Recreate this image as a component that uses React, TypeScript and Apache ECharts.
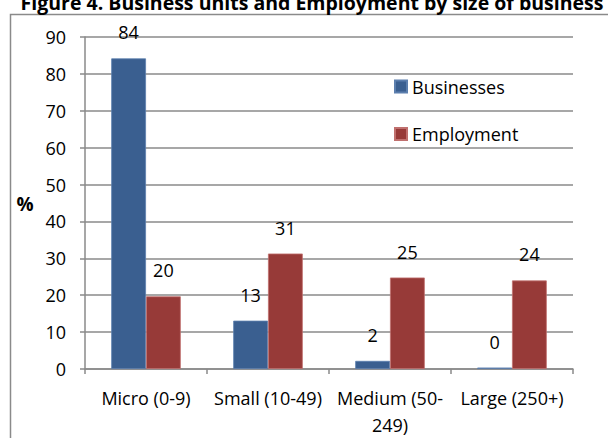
import { useEffect, useRef } from "react";
import * as echarts from "echarts";

const categories = ["Micro (0-9)", "Small (10-49)", "Medium (50-249)", "Large (250+)"];
const businesses = [84.2, 13.1, 2.2, 0.4];
const employment = [19.7, 31.3, 24.8, 24.0];
const seriesNames = ["Businesses", "Employment"];
const titleText = "Figure 4. Business units and Employment by size of business";

const FONT = "'Open Sans', 'Noto Sans', sans-serif";

export default function App() {
  const ref = useRef<HTMLDivElement>(null);
  useEffect(() => {
    if (!ref.current) return;
    const chart = echarts.init(ref.current, undefined, { renderer: "svg" });
    const labelCfg = {
      show: true,
      position: "top" as const,
      distance: 17,
      fontFamily: FONT,
      fontSize: 18,
      color: "#000",
      formatter: (p: any) => String(Math.round(p.value)),
    };
    const legendText = { fontFamily: FONT, fontSize: 18, color: "#000" };
    chart.setOption({
      animation: false,
      backgroundColor: "#fff",
      textStyle: { fontFamily: FONT },
      graphic: [
        {
          type: "rect",
          shape: { x: 10.5, y: 14.5, width: 640, height: 460 },
          style: { fill: "none", stroke: "#8a8a8a", lineWidth: 1.5 },
          silent: true,
          z: -10,
        },
        {
          type: "text",
          x: 312,
          y: 2,
          style: {
            text: titleText,
            fontFamily: FONT,
            fontWeight: "bold",
            fontSize: 19.5,
            fill: "#000",
            textAlign: "center",
            textVerticalAlign: "middle",
          },
        },
        {
          type: "text",
          x: 25,
          y: 204,
          style: {
            text: "%",
            fontFamily: FONT,
            fontWeight: "bold",
            fontSize: 19,
            fill: "#000",
            textAlign: "center",
            textVerticalAlign: "middle",
          },
        },
      ],
      legend: [
        {
          data: [seriesNames[0]],
          left: 394,
          top: 77.5,
          padding: 0,
          itemWidth: 12,
          itemHeight: 12,
          icon: "rect",
          textStyle: legendText,
        },
        {
          data: [seriesNames[1]],
          left: 394,
          top: 125,
          padding: 0,
          itemWidth: 12,
          itemHeight: 12,
          icon: "rect",
          textStyle: legendText,
        },
      ],
      grid: { left: 85, right: 35, top: 37, bottom: 69, containLabel: false },
      xAxis: {
        type: "category",
        data: categories,
        axisLine: { show: true, lineStyle: { color: "#8a8a8a", width: 1.5 } },
        axisTick: { show: true, length: 5, lineStyle: { color: "#8a8a8a", width: 1.5 } },
        axisLabel: {
          fontFamily: FONT,
          fontSize: 18,
          color: "#000",
          lineHeight: 27,
          margin: 15,
          interval: 0,
          formatter: (v: string) => v.replace("(50-", "(50-\n"),
        },
      },
      yAxis: {
        type: "value",
        min: 0,
        max: 90,
        interval: 10,
        axisLine: { show: true, lineStyle: { color: "#8a8a8a", width: 1.5 } },
        axisTick: { show: true, length: 5, lineStyle: { color: "#8a8a8a", width: 1.5 } },
        splitLine: { show: true, lineStyle: { color: "#8a8a8a", width: 1.5 } },
        axisLabel: { fontFamily: FONT, fontSize: 18, color: "#000", margin: 19 },
      },
      series: [
        {
          name: seriesNames[0],
          type: "bar",
          data: businesses,
          barGap: "0%",
          barCategoryGap: "43%",
          itemStyle: { color: "#3a5f90", borderColor: "#5c7fae", borderWidth: 0.8 },
          label: labelCfg,
        },
        {
          name: seriesNames[1],
          type: "bar",
          data: employment,
          barGap: "0%",
          barCategoryGap: "43%",
          itemStyle: { color: "#973a38", borderColor: "#c0706e", borderWidth: 0.8 },
          label: labelCfg,
        },
      ],
    });
    return () => chart.dispose();
  }, []);
  return (
    <div
      ref={ref}
      style={{ position: "fixed", left: 0, top: 0, width: 608, height: 438 }}
    />
  );
}
